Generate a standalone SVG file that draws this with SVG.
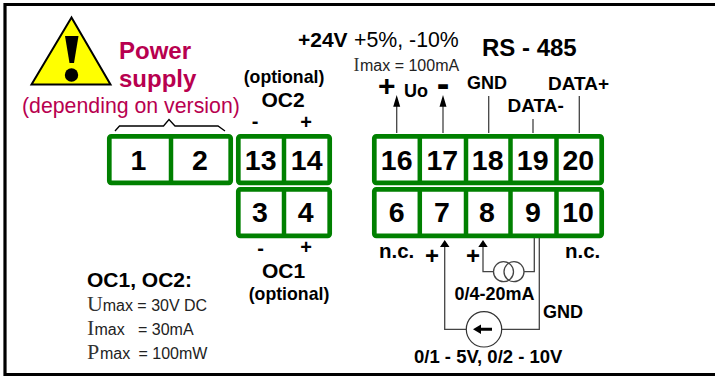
<svg xmlns="http://www.w3.org/2000/svg" width="715" height="377" viewBox="0 0 715 377">
<style>
text{font-family:"Liberation Sans",Arial,sans-serif;fill:#000}
.b{font-weight:bold}
.num{font-weight:bold;font-size:28.5px;text-anchor:middle}
.lab{font-weight:bold;font-size:18px}
.lab2{font-weight:bold;font-size:19px}
.n{font-weight:bold;font-size:20.500px}
.opt{font-weight:bold;font-size:17.700px;text-anchor:middle}
.oc{font-weight:bold;font-size:21px;text-anchor:middle}
.sg{font-weight:bold;font-size:20px;text-anchor:middle}
.ser{font-family:"Liberation Serif","Times New Roman",serif;fill:#333;font-size:22px}
.ser2{font-family:"Liberation Serif","Times New Roman",serif;fill:#333;font-size:18px}
.sm{font-size:16px;fill:#222}
.red{fill:#b8004f}
.box{fill:#fff;stroke:#008000;stroke-width:4.700;stroke-linejoin:round}
.div{stroke:#008000;stroke-width:4.500;fill:none}
.w{stroke:#444;stroke-width:1.300;fill:none}
</style>
<rect width="715" height="377" fill="#fff"/>
<path d="M715,4.500 H5 V374.500 H715" fill="none" stroke="#000" stroke-width="3.200"/>
<g id="warning">
<path d="M71.500,17.500 L31.500,84.500 H110.500 Z" fill="#ffff00" stroke="#000" stroke-width="2"/>
<path d="M65,36 H78.500 L74,63 H69.500 Z" fill="#000"/>
<circle cx="71.500" cy="75" r="6.700" fill="#000"/>
</g>
<g id="power-label">
<text x="119" y="59" class="b red" font-size="24">Power</text>
<text x="119" y="87" class="b red" font-size="24">supply</text>
<text x="22" y="113" class="red" font-size="21.300">(depending on version)</text>
<path d="M115,131 L119.500,126 H163.500 L169,119.500 L175,126 H218 L225,131" fill="none" stroke="#000" stroke-width="1.300"/>
</g>
<g id="block-1-2">
<rect class="box" x="109.300" y="136.300" width="121.400" height="46.500" rx="2"/>
<path class="div" d="M171,136 V183"/>
<text class="num" x="138.500" y="170">1</text><text class="num" x="200" y="170">2</text>
</g>
<g id="block-13-14">
<rect class="box" x="238.300" y="136.300" width="91.400" height="46.500" rx="2"/>
<path class="div" d="M284,136 V183"/>
<text class="num" x="260.700" y="170">13</text><text class="num" x="306.700" y="170">14</text>
<text class="opt" x="284" y="83">(optional)</text>
<text class="oc" x="283" y="107">OC2</text>
<text class="sg" x="255" y="128">-</text><text class="sg" x="306" y="128.500">+</text>
</g>
<g id="block-3-4">
<rect class="box" x="238.300" y="189.300" width="91.400" height="46.500" rx="2"/>
<path class="div" d="M284,189 V236"/>
<text class="num" x="260" y="222">3</text><text class="num" x="305.700" y="222">4</text>
<text class="sg" x="260.700" y="254.500">-</text><text class="sg" x="306" y="253.500">+</text>
<text class="oc" x="283.500" y="277.700">OC1</text>
<text class="opt" x="289" y="300">(optional)</text>
</g>
<g id="block-16-20">
<rect class="box" x="374.300" y="136.300" width="227.400" height="46.500" rx="2"/>
<path class="div" d="M419.800,136 V183 M466,136 V183 M510.500,136 V183 M556.500,136 V183"/>
<text class="num" x="396.700" y="170">16</text><text class="num" x="442.300" y="170">17</text><text class="num" x="487.700" y="170">18</text><text class="num" x="532.700" y="170">19</text><text class="num" x="578.300" y="170">20</text>
</g>
<g id="block-6-10">
<rect class="box" x="374.300" y="189.300" width="227.400" height="46.500" rx="2"/>
<path class="div" d="M419.800,189 V236 M466,189 V236 M510.500,189 V236 M556.500,189 V236"/>
<text class="num" x="396.700" y="222">6</text><text class="num" x="442" y="222">7</text><text class="num" x="487" y="222">8</text><text class="num" x="533" y="222">9</text><text class="num" x="578" y="222">10</text>
</g>
<g id="connectors">
<path class="w" d="M396.700,133 V100 M443,133 V100 M488.700,133 V96 M533,133 V119 M579.300,133 V96"/>
<path d="M396.700,95 L400.200,106.700 H393.200 Z M443,95 L446.500,106.700 H439.500 Z" fill="#000"/>
<path class="w" d="M444.700,246 V329.300 H466 M502,329.300 H539.300 V238 M483,246 V271.700 H493.500 M524,271.700 H534.300 V238"/>
<path d="M444.700,240 L449.500,247 H440 Z M483,240 L487.700,247 H478.300 Z" fill="#000"/>
</g>
<g id="current-source">
<circle class="w" cx="503.500" cy="271.700" r="10"/>
<circle class="w" cx="514" cy="271.700" r="10"/>
<text class="lab" x="454.500" y="300">0/4-20mA</text>
</g>
<g id="voltage-source">
<circle cx="484" cy="329.300" r="17.700" fill="#fff" stroke="#333" stroke-width="1.200"/>
<path d="M473,329.300 L481,324.500 V327.800 H492 V330.800 H481 V334 Z" fill="#000"/>
<text class="b" font-size="18.500" x="414" y="363">0/1 - 5V, 0/2 - 10V</text>
</g>
<g id="labels">
<text class="b" font-size="21" x="298" y="46.700">+24V</text>
<text font-size="21.300" x="354" y="47" fill="#222">+5%, -10%</text>
<text class="ser2" x="353.500" y="70.700">I</text><text class="sm" x="360" y="70.700">max = 100mA</text>
<text class="b" font-size="24" x="482" y="56">RS - 485</text>
<text class="b" font-size="30" x="378" y="96">+</text>
<text class="b" font-size="38" x="436.700" y="97">-</text>
<text class="lab" x="404" y="96.700">Uo</text>
<text class="lab" x="467" y="89">GND</text>
<text class="lab2" x="548" y="90">DATA+</text>
<text class="lab2" x="507.500" y="112">DATA-</text>
<text class="n" x="379" y="258">n.c.</text>
<text class="n" x="565" y="258">n.c.</text>
<text class="b" font-size="24" x="425" y="264">+</text>
<text class="b" font-size="24" x="466" y="264">+</text>
<text class="lab" x="543" y="318">GND</text>
<text class="b" font-size="21" x="87" y="286.700">OC1, OC2:</text>
<text class="ser" x="87" y="311">U</text><text class="sm" x="102.700" y="311">max = 30V DC</text>
<text class="ser" x="87" y="335">I</text><text class="sm" x="94.500" y="335">max</text><text class="sm" x="138" y="335">= 30mA</text>
<text class="ser" x="87" y="359">P</text><text class="sm" x="100" y="359">max</text><text class="sm" x="138.500" y="359">= 100mW</text>
</g>
</svg>
